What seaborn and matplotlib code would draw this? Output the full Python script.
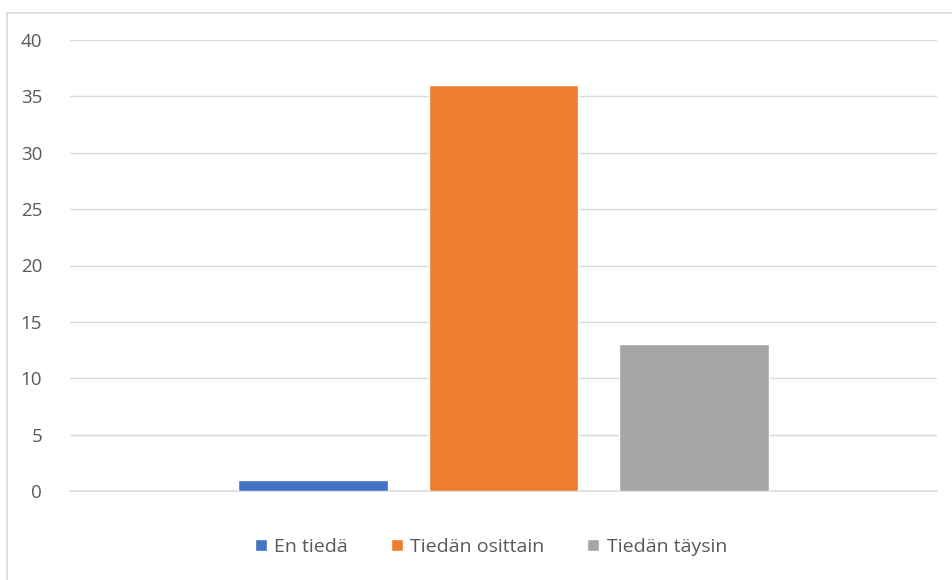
import matplotlib.pyplot as plt
import seaborn as sns
import pandas as pd
from matplotlib.patches import Rectangle

# Survey answers (one category, three answer options)
categories = ['']
series = ['En tiedä', 'Tiedän osittain', 'Tiedän täysin']
values = [1, 36, 13]
colors = ['#4472C4', '#ED7D31', '#A5A5A5']
yticks = [0, 5, 10, 15, 20, 25, 30, 35, 40]

df = pd.DataFrame({'cat': categories * len(series), 'series': series, 'value': values})

sns.set_style('white')
plt.rcParams['font.family'] = ['Open Sans', 'DejaVu Sans']

fig = plt.figure(figsize=(9.52, 5.80), dpi=100)
ax = fig.add_axes([70 / 952, 1 - 491 / 580, 867 / 952, 451 / 580])

sns.barplot(data=df, x='cat', y='value', hue='series', palette=colors,
            width=0.66, gap=0.215, ax=ax, saturation=1, legend=True)

ax.set_xlim(-0.5, 0.5)
ax.set_ylim(0, 40)
ax.set_yticks(yticks)
ax.set_yticklabels([str(t) for t in yticks], fontsize=13.5, color='#595959')
ax.set_xticks([])
ax.set_xlabel('')
ax.set_ylabel('')
ax.tick_params(axis='y', length=0, pad=20)
ax.grid(axis='y', color='#D9D9D9', linewidth=1)
ax.axhline(0, color='#D9D9D9', linewidth=1.2, zorder=0.5, clip_on=False)
ax.set_axisbelow(True)
for s in ax.spines.values():
    s.set_visible(False)

handles, labels = ax.get_legend_handles_labels()
ax.get_legend().remove()
fig.legend(handles, labels, loc='center', bbox_to_anchor=(491 / 952, 1 - 547 / 580),
           ncol=3, frameon=False, fontsize=14, labelcolor='#595959',
           handlelength=0.6, handleheight=0.6, handletextpad=0.4, columnspacing=2.2)

# chart border like the spreadsheet frame
fig.patches.append(Rectangle((7 / 952, -0.1), 1.1, 1 - 13 / 580 + 0.1, transform=fig.transFigure,
                             fill=False, edgecolor='#D9D9D9', linewidth=1.2))

fig.savefig('out.png', dpi=100)
